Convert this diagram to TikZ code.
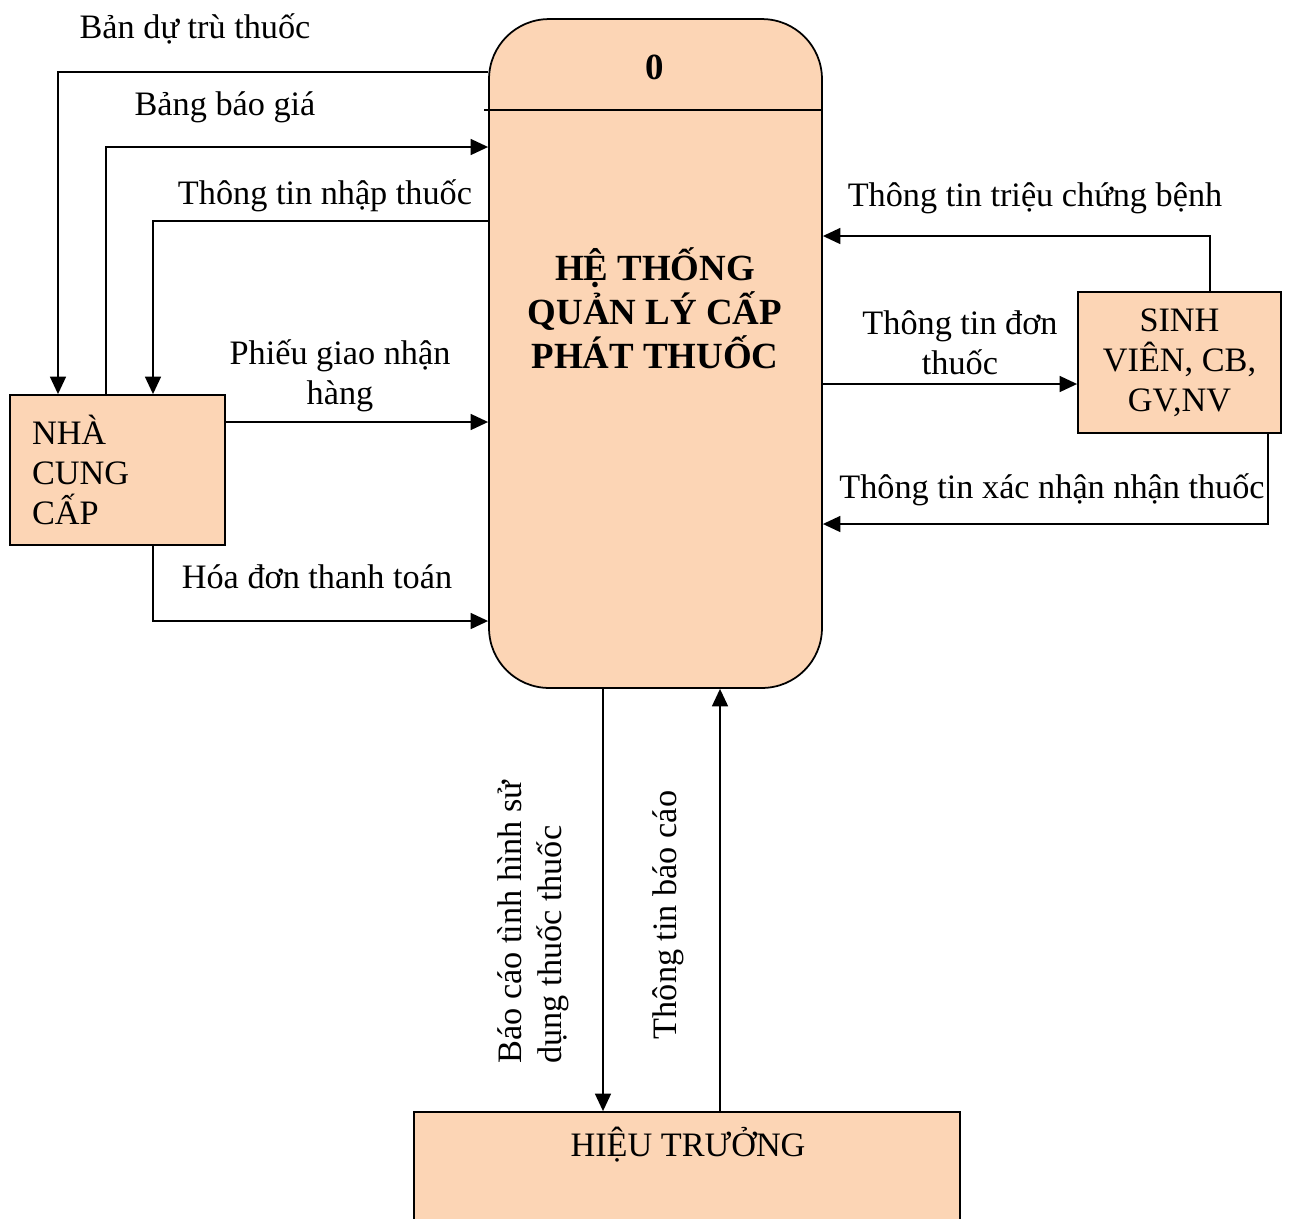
\documentclass[tikz,border=0pt]{standalone}
\usepackage{fontspec}
\setmainfont{Liberation Serif}
\usetikzlibrary{arrows.meta}
\definecolor{peach}{RGB}{252,213,181}
\tikzset{
  box/.style={draw, fill=peach, line width=1pt, inner sep=0pt},
  flow/.style={line width=1.3pt, -{Triangle[length=10pt,width=9pt]}},
  lbl/.style={font=\fontsize{19.5}{22.7}\selectfont, inner sep=0pt},
  ttl/.style={font=\bfseries\fontsize{21}{24.9}\selectfont, inner sep=0pt},
}

\begin{document}
\begin{tikzpicture}[x=0.02cm, y=-0.02cm]
    \useasboundingbox (0,0) rectangle (1291,1218);
    \clip (0,0) rectangle (1291,1218);

    % Process
    \node[box, rounded corners=1.2cm, minimum width=6.66cm, minimum height=13.38cm] (proc) at (655.5,353.5) {};
    \draw[line width=1pt] (proc.west |- 0,110) ++(-4,0) -- (proc.east |- 0,110);
    \node[ttl] (num) at (655,67) {0};
    \node[ttl, align=center] (title) at (655,308) {HỆ THỐNG\\QUẢN LÝ CẤP\\PHÁT THUỐC};

    % External entities
    \node[box, lbl, minimum width=4.3cm, minimum height=3cm, text width=3.42cm, inner xsep=0.44cm, align=left] (ncc) at (117.5,470) {NHÀ\\CUNG\\CẤP\\[0.18cm]};
    \node[box, lbl, minimum width=4.06cm, minimum height=2.82cm, align=center] (sv) at (1179.5,362.5) {SINH\\VIÊN, CB,\\GV,NV};
    \node[box, minimum width=10.92cm, minimum height=2.6cm] (ht) at (687,1177) {};
    \node[lbl] (htname) at (688,1145) {HIỆU TRƯỞNG};

    % Flows with supplier
    \draw[flow] (proc.west |- 0,72) -| (ncc.north -| 58,0);
    \draw[flow] (ncc.north -| 106,0) |- (proc.west |- 0,147);
    \draw[flow] (proc.west |- 0,221) -| (ncc.north -| 153,0);
    \draw[flow] (ncc.east |- 0,422) -- (proc.west |- 0,422);
    \draw[flow] (ncc.south -| 153,0) |- (proc.west |- 0,621);

    % Flows with students and staff
    \draw[flow] (sv.north -| 1210,0) |- (proc.east |- 0,236);
    \draw[flow] (proc.east |- 0,384) -- (sv.west |- 0,384);
    \draw[flow] (sv.south -| 1268,0) |- (proc.east |- 0,524);

    % Flows with principal
    \draw[flow] (proc.south -| 603,0) -- (ht.north -| 603,0);
    \draw[flow] (ht.north -| 720,0) -- (proc.south -| 720,0);

    % Labels
    \node[lbl] (l1) at (195,29) {Bản dự trù thuốc};
    \node[lbl] (l2) at (225,107) {Bảng báo giá};
    \node[lbl] (l3) at (325,196) {Thông tin nhập thuốc};
    \node[lbl, align=center] (l4) at (340,376) {Phiếu giao nhận\\hàng};
    \node[lbl] (l5) at (317,577) {Hóa đơn thanh toán};
    \node[lbl] (l6) at (1035,198) {Thông tin triệu chứng bệnh};
    \node[lbl, align=center] (l7) at (960,343) {Thông tin đơn\\thuốc};
    \node[lbl] (l8) at (1052,490) {Thông tin xác nhận nhận thuốc};
    \node[lbl, align=left, rotate=90] (l9) at (533,922) {Báo cáo tình hình sử\\dụng thuốc thuốc};
    \node[lbl, rotate=90] (l10) at (668,915) {Thông tin báo cáo};
\end{tikzpicture}
\end{document}
